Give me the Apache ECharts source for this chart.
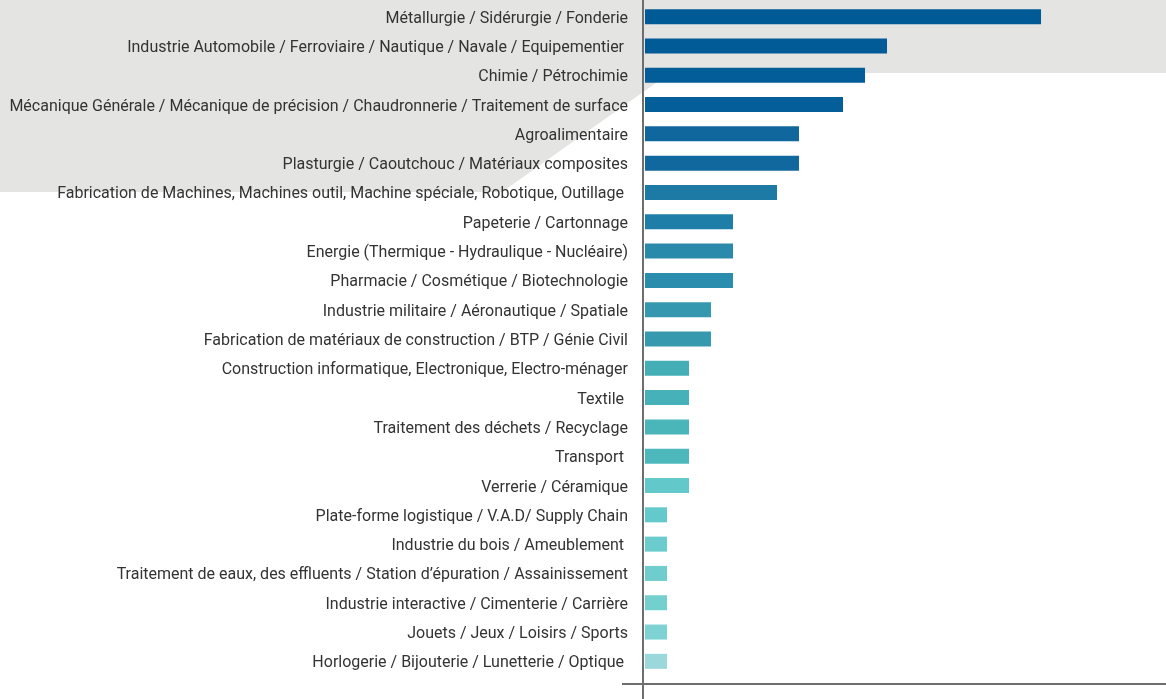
<!DOCTYPE html>
<html>
<head>
<meta charset="utf-8">
<script src="https://cdn.jsdelivr.net/npm/echarts@6/dist/echarts.min.js"></script>
<style>
html, body { margin: 0; padding: 0; background: #fff; }
#chart { width: 1166px; height: 699px; }
</style>
</head>
<body>
<div id="chart"></div>
<script>
// secteurs, du plus représenté au moins représenté
var categories = [
    'Métallurgie / Sidérurgie / Fonderie',
    'Industrie Automobile / Ferroviaire / Nautique / Navale / Equipementier ',
    'Chimie / Pétrochimie',
    'Mécanique Générale / Mécanique de précision / Chaudronnerie / Traitement de surface',
    'Agroalimentaire',
    'Plasturgie / Caoutchouc / Matériaux composites',
    'Fabrication de Machines, Machines outil, Machine spéciale, Robotique, Outillage ',
    'Papeterie / Cartonnage',
    'Energie (Thermique - Hydraulique - Nucléaire)',
    'Pharmacie / Cosmétique / Biotechnologie',
    'Industrie militaire / Aéronautique / Spatiale',
    'Fabrication de matériaux de construction / BTP / Génie Civil',
    'Construction informatique, Electronique, Electro-ménager',
    'Textile ',
    'Traitement des déchets / Recyclage',
    'Transport ',
    'Verrerie / Céramique',
    'Plate-forme logistique / V.A.D/ Supply Chain',
    'Industrie du bois / Ameublement ',
    'Traitement de eaux, des effluents / Station d\u2019épuration / Assainissement',
    'Industrie interactive / Cimenterie / Carrière',
    'Jouets / Jeux / Loisirs / Sports',
    'Horlogerie / Bijouterie / Lunetterie / Optique '
]
var values = [18, 11, 10, 9, 7, 7, 6, 4, 4, 4, 3, 3, 2, 2, 2, 2, 2, 1, 1, 1, 1, 1, 1]

// dégradé bleu foncé -> turquoise clair
var barColors = [
    '#005a96', '#005b97', '#035d98', '#045e99', '#10679d', '#10689e',
    '#1c7aa5', '#1f7ea7', '#2a8aab', '#2b8dad', '#3598af', '#3799ae',
    '#44aeb6', '#46b1b8', '#4ab6ba', '#4cb8bc', '#62c8ca', '#63c9cb',
    '#6acccd', '#6fcdce', '#74cfcf', '#7fd2d3', '#9ad8db'
]

var myChart = echarts.init(document.getElementById('chart'))

var options = {
    animation: false,
    grid: {
        left: 645,
        right: 0,
        top: 2,
        bottom: 23,
        containLabel: false
    },
    graphic: [
        {
            type: 'polygon',
            z: -10,
            silent: true,
            shape: {
                points: [[0, 0], [1166, 0], [1166, 73], [670, 73], [502, 192], [0, 192]]
            },
            style: { fill: '#e4e4e3' }
        },
        {
            // axe vertical
            type: 'line',
            z: 10,
            silent: true,
            shape: { x1: 643, y1: 0, x2: 643, y2: 699 },
            style: { stroke: '#6e6e6e', lineWidth: 2 }
        },
        {
            // axe horizontal
            type: 'line',
            z: 10,
            silent: true,
            shape: { x1: 622, y1: 684, x2: 1166, y2: 684 },
            style: { stroke: '#6e6e6e', lineWidth: 2 }
        }
    ],
    xAxis: {
        type: 'value',
        min: 0,
        max: 23.68,
        show: false,
        splitLine: { show: false }
    },
    yAxis: {
        type: 'category',
        inverse: true,
        data: categories,
        axisLine: { show: false },
        axisTick: { show: false },
        axisLabel: {
            margin: 17,
            color: '#333333',
            fontSize: 16,
            fontFamily: 'Roboto',
            interval: 0,
            formatter: '{a|{value}}',
            rich: {
                a: {
                    color: '#333333',
                    fontSize: 16,
                    fontFamily: 'Roboto',
                    padding: [4, 0, 0, 0]
                }
            }
        }
    },
    series: [
        {
            type: 'bar',
            barWidth: 15,
            data: values.map(function (v, i) {
                return { value: v, itemStyle: { color: barColors[i] } }
            })
        }
    ]
}
myChart.setOption(options)
</script>
</body>
</html>
